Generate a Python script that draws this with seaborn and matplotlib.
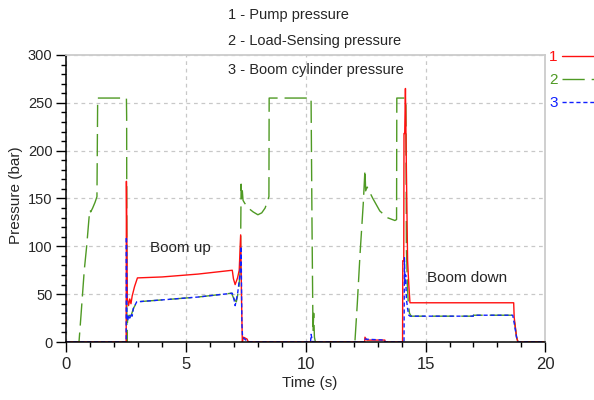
import matplotlib
matplotlib.use("Agg")
import matplotlib.pyplot as plt
import seaborn as sns
import pandas as pd
from matplotlib.ticker import MultipleLocator

# dados (tempo em s, pressão em bar)
t_ls = [0.0, 0.53, 0.62, 0.75, 0.85, 0.95, 0.99, 1.02, 1.1, 1.2, 1.28, 1.31,
        2.51, 2.52, 2.53, 2.56, 2.62, 2.7, 2.8, 2.95, 4.0, 5.5, 6.9, 7.0, 7.1,
        7.2, 7.27, 7.3, 7.32, 7.35, 7.38, 7.45, 7.6, 7.8, 8.0, 8.16, 8.3, 8.4,
        8.46, 8.47, 10.22, 10.26, 10.3, 10.33, 10.36, 10.4, 12.05, 12.15, 12.26,
        12.4, 12.47, 12.5, 12.56, 12.8, 13.09, 13.4, 13.72, 13.79, 13.8, 14.14,
        14.18, 14.2, 14.24, 14.28, 14.33, 14.4, 16.99, 17.0, 18.64, 18.72, 18.8,
        18.86, 20.0]
p_ls = [0, 0, 30, 75, 100, 130, 138, 136, 140, 146, 152, 255,
        255, 235, 0, 25, 28, 27, 35, 42, 44, 47, 51, 45, 42,
        55, 78, 165, 150, 158, 148, 145, 140, 136, 133, 135, 140, 147,
        152, 255, 255, 120, 10, 30, 5, 0, 0, 40, 90,
        145, 180, 158, 162, 150, 137, 130, 127, 128, 255, 255,
        250, 100, 60, 40, 30, 27, 27, 28, 28, 20, 5,
        0, 0]

t_pump = [0.0, 2.5, 2.51, 2.53, 2.55, 2.6, 2.65, 2.7, 2.75, 2.85, 2.97, 4.0,
          5.5, 6.93, 6.98, 7.05, 7.15, 7.22, 7.28, 7.32, 7.35, 7.4, 7.55, 7.6,
          12.46, 12.47, 12.55, 13.3, 13.31, 14.04, 14.05, 14.09, 14.1, 14.13,
          14.16, 14.2, 14.25, 14.3, 14.35, 18.68, 18.7, 18.8, 18.86, 20.0]
p_pump = [0, 0, 168, 100, 45, 38, 45, 40, 48, 58, 67, 68,
          71, 75, 66, 60, 67, 75, 112, 40, 0, 5, 3, 0,
          0, 5, 2, 2, 0, 0, 85, 85, 218, 218,
          265, 180, 85, 60, 41, 41, 26, 5, 0, 0]

t_boom = [0.0, 2.5, 2.51, 2.53, 2.56, 2.6, 2.65, 2.7, 2.75, 2.8, 2.94, 4.0,
          5.5, 6.93, 7.0, 7.05, 7.15, 7.25, 7.3, 7.33, 7.36, 7.45, 7.6, 10.2,
          10.22, 10.26, 10.3, 12.46, 12.47, 13.3, 13.31, 14.1, 14.12, 14.14,
          14.17, 14.2, 14.25, 14.3, 14.35, 16.99, 17.0, 18.64, 18.7, 18.8,
          18.86, 20.0]
p_boom = [0, 0, 110, 30, 22, 28, 25, 30, 27, 35, 42, 44,
          47, 51, 45, 38, 50, 70, 100, 20, 5, 3, 0, 0,
          8, 3, 0, 0, 3, 2, 0, 0, 88, 60,
          70, 45, 35, 28, 27, 27, 28, 28, 20, 5,
          0, 0]

titulos = ["1 - Pump pressure", "2 - Load-Sensing pressure", "3 - Boom cylinder pressure"]

sns.set_theme(style="white")
plt.rcParams['font.family'] = ['Liberation Sans Narrow', 'Liberation Sans', 'DejaVu Sans']

fig = plt.figure(figsize=(5.94, 4), dpi=100)
ax = fig.add_axes([66.3 / 594, 1 - 342 / 400, 479 / 594, 287 / 400])

df_ls = pd.DataFrame({'t': t_ls, 'p': p_ls})
df_pump = pd.DataFrame({'t': t_pump, 'p': p_pump})
df_boom = pd.DataFrame({'t': t_boom, 'p': p_boom})

# ordem: verde por baixo, vermelho, azul por cima
sns.lineplot(data=df_ls, x='t', y='p', estimator=None, sort=False, ax=ax,
             color='#4f9a24', lw=1.0, linestyle=(0, (16, 5)), label='2')
sns.lineplot(data=df_pump, x='t', y='p', estimator=None, sort=False, ax=ax,
             color='#ff1010', lw=1.0, label='1')
sns.lineplot(data=df_boom, x='t', y='p', estimator=None, sort=False, ax=ax,
             color='#1020ff', lw=1.0, linestyle=(0, (3, 2)), label='3')

ax.set_xlim(0, 20)
ax.set_ylim(0, 300)
ax.xaxis.set_major_locator(MultipleLocator(5))
ax.xaxis.set_minor_locator(MultipleLocator(1))
ax.yaxis.set_major_locator(MultipleLocator(50))
ax.yaxis.set_minor_locator(MultipleLocator(10))
ax.tick_params(axis='both', which='major', direction='out', length=7.5, width=1, color='black',
               left=True, bottom=True)
ax.tick_params(axis='both', which='minor', direction='out', length=3.6, width=1, color='black',
               left=True, bottom=True)
ax.tick_params(axis='y', labelsize=10.5, pad=2.5)
ax.tick_params(axis='x', labelsize=12, pad=3)
ax.grid(True, which='major', color='#c8c8c8', linestyle=(0, (3, 3)), lw=0.9)

for lado in ['left', 'bottom']:
    ax.spines[lado].set_color('black')
    ax.spines[lado].set_linewidth(1.1)
for lado in ['top', 'right']:
    ax.spines[lado].set_color('#cccccc')
    ax.spines[lado].set_linewidth(1.3)

ax.set_xlabel('Time (s)', fontsize=11)
ax.set_ylabel('Pressure (bar)', fontsize=11)
ax.xaxis.set_label_coords(0.508, -0.12)
ax.yaxis.set_label_coords(-0.09, 0.512)

# anotações das fases
ax.text(4.75, 98, 'Boom up', ha='center', va='center', fontsize=11)
ax.text(16.72, 67, 'Boom down', ha='center', va='center', fontsize=11)

# títulos das séries no topo
for i, txt in enumerate(titulos):
    fig.text(228 / 594, 1 - [15, 40.5, 70][i] / 400, txt, ha='left', va='center', fontsize=10.5)

# legenda à direita, número antes da linha
handles, labels = ax.get_legend_handles_labels()
ordem = [labels.index(k) for k in ['1', '2', '3']]
leg = ax.legend([handles[k] for k in ordem], ['1', '2', '3'], loc='upper left',
                bbox_to_anchor=(549 / 594, 1 - 50 / 400), bbox_transform=fig.transFigure,
                frameon=False, markerfirst=False, handlelength=3.2, handletextpad=0.3,
                labelspacing=0.6, borderpad=0, borderaxespad=0, fontsize=11,
                labelcolor='linecolor')

fig.savefig('out.png', dpi=100)
